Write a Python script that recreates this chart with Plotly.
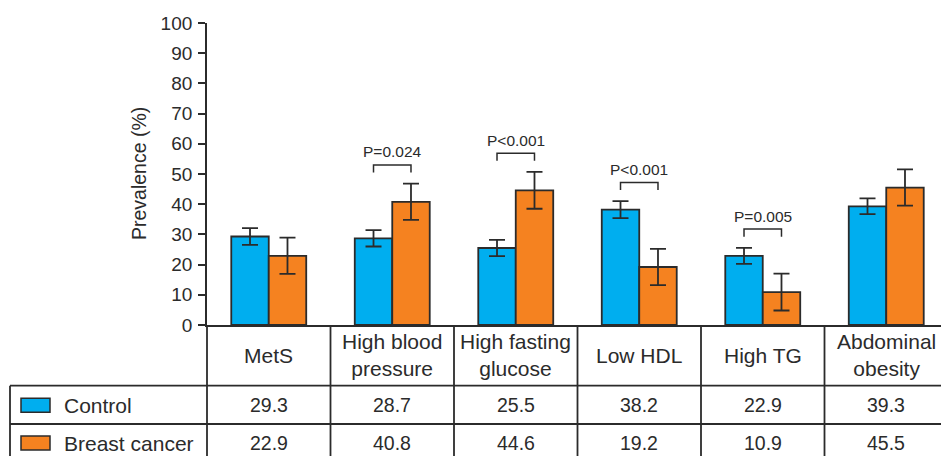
import plotly.graph_objects as go

# ---- data ----
categories = ["MetS", "High blood<br>pressure", "High fasting<br>glucose",
              "Low HDL", "High TG", "Abdominal<br>obesity"]
series_names = ["Control", "Breast cancer"]
control = [29.3, 28.7, 25.5, 38.2, 22.9, 39.3]
breast = [22.9, 40.8, 44.6, 19.2, 10.9, 45.5]
control_err = [2.8, 2.7, 2.7, 2.8, 2.65, 2.6]
breast_err = [6.0, 6.0, 6.1, 6.0, 6.1, 6.0]
p_labels = [None, "P=0.024", "P<0.001", "P<0.001", "P=0.005", None]
yticks = list(range(0, 101, 10))

# ---- style / layout constants ----
BLUE = "#00AEEF"
ORANGE = "#F58220"
DARK = "#2b2b2b"
FONT = "Liberation Sans, Arial, sans-serif"
W, H = 941, 456
L, T, B, R = 207, 23, 131, 0
PW, PH = W - L - R, H - T - B
COLW = 123.5
XR = [-0.5, -0.5 + PW / COLW]
BARGAP = 0.393
HALF = (1 - BARGAP) / 4

def px_x(px):
    return (px - L) / PW

def px_y(py):
    return (H - B - py) / PH

def col_x(k):  # paper x of data coordinate k
    return (k - XR[0]) / (XR[1] - XR[0])

xs = list(range(len(categories)))

fig = go.Figure()
for name, vals, errs, col in [(series_names[0], control, control_err, BLUE),
                              (series_names[1], breast, breast_err, ORANGE)]:
    fig.add_trace(go.Bar(
        x=xs, y=vals, name=name,
        marker=dict(color=col, line=dict(color=DARK, width=1.8)),
        error_y=dict(type="data", array=errs, visible=True,
                     color=DARK, thickness=1.8, width=8),
        showlegend=False, hoverinfo="skip",
    ))

shapes = []
annotations = []

# significance brackets
for i, lab in enumerate(p_labels):
    if not lab:
        continue
    top = max(control[i] + control_err[i], breast[i] + breast_err[i]) + 6.2
    x0, x1 = i - HALF, i + HALF
    shapes.append(dict(type="path", xref="x", yref="y",
                       path=f"M {x0} {top-2.5} L {x0} {top} L {x1} {top} L {x1} {top-2.5}",
                       line=dict(color=DARK, width=1.5)))
    annotations.append(dict(x=i, y=top + 4.3, xref="x", yref="y", text=lab,
                            showarrow=False, xanchor="center", yanchor="middle",
                            font=dict(size=15.5, color=DARK, family=FONT)))

# table grid
TBL_BOT = H + 5
ROW1 = 385.7
ROW2 = 424.0
LEFT = 10
line = dict(color=DARK, width=1.8)
for k in range(len(categories) + 1):
    xp = col_x(k - 0.5)
    shapes.append(dict(type="line", xref="paper", yref="paper",
                       x0=xp, x1=xp, y0=px_y(H - B), y1=px_y(TBL_BOT), line=line))
for ry in (ROW1, ROW2):
    shapes.append(dict(type="line", xref="paper", yref="paper",
                       x0=px_x(LEFT), x1=col_x(len(categories) - 0.5),
                       y0=px_y(ry), y1=px_y(ry), line=line))
shapes.append(dict(type="line", xref="paper", yref="paper",
                   x0=px_x(LEFT), x1=px_x(LEFT), y0=px_y(ROW1), y1=px_y(TBL_BOT), line=line))

# header labels
hdr_y = px_y((H - B + ROW1) / 2)
for i, c in enumerate(categories):
    annotations.append(dict(x=col_x(i), y=hdr_y, xref="paper", yref="paper", text=c,
                            showarrow=False, xanchor="center", yanchor="middle",
                            font=dict(size=21, color=DARK, family=FONT)))

# data rows
row_centers = [(ROW1 + ROW2) / 2 + 0.5, ROW2 + 19]
for name, vals, col, rc in [(series_names[0], control, BLUE, row_centers[0]),
                            (series_names[1], breast, ORANGE, row_centers[1])]:
    shapes.append(dict(type="rect", xref="paper", yref="paper",
                       x0=px_x(21), x1=px_x(50), y0=px_y(rc - 7), y1=px_y(rc + 7),
                       fillcolor=col, line=dict(color=DARK, width=1.5)))
    annotations.append(dict(x=px_x(62), y=px_y(rc), xref="paper", yref="paper",
                            text=name, showarrow=False, xanchor="left", yanchor="middle",
                            font=dict(size=21, color=DARK, family=FONT)))
    for i, v in enumerate(vals):
        annotations.append(dict(x=col_x(i), y=px_y(rc), xref="paper", yref="paper",
                                text=f"{v:.1f}", showarrow=False,
                                xanchor="center", yanchor="middle",
                                font=dict(size=19.5, color=DARK, family=FONT)))

# y axis title
annotations.append(dict(x=px_x(139), y=0.5, xref="paper", yref="paper",
                        text="Prevalence (%)", textangle=-90, showarrow=False,
                        xanchor="center", yanchor="middle",
                        font=dict(size=19.5, color=DARK, family=FONT)))

fig.update_layout(
    width=W, height=H,
    margin=dict(l=L, r=R, t=T, b=B, pad=0),
    paper_bgcolor="white", plot_bgcolor="white",
    barmode="group", bargap=BARGAP, bargroupgap=0,
    shapes=shapes, annotations=annotations,
    font=dict(family=FONT, color=DARK),
    xaxis=dict(range=XR, showticklabels=False, ticks="", showgrid=False,
               zeroline=False, showline=True, linecolor=DARK, linewidth=1.8),
    yaxis=dict(range=[0, 100], tickvals=yticks, ticks="outside", ticklen=7,
               tickwidth=1.5, tickcolor=DARK, showgrid=False, zeroline=False,
               showline=True, linecolor=DARK, linewidth=1.8,
               tickfont=dict(size=19, color=DARK, family=FONT),
               ticklabelstandoff=2),
)

fig.write_html(
    "out.html",
    config={"displayModeBar": False},
    post_script="document.body.style.margin='0px';document.body.style.overflow='hidden';",
)
